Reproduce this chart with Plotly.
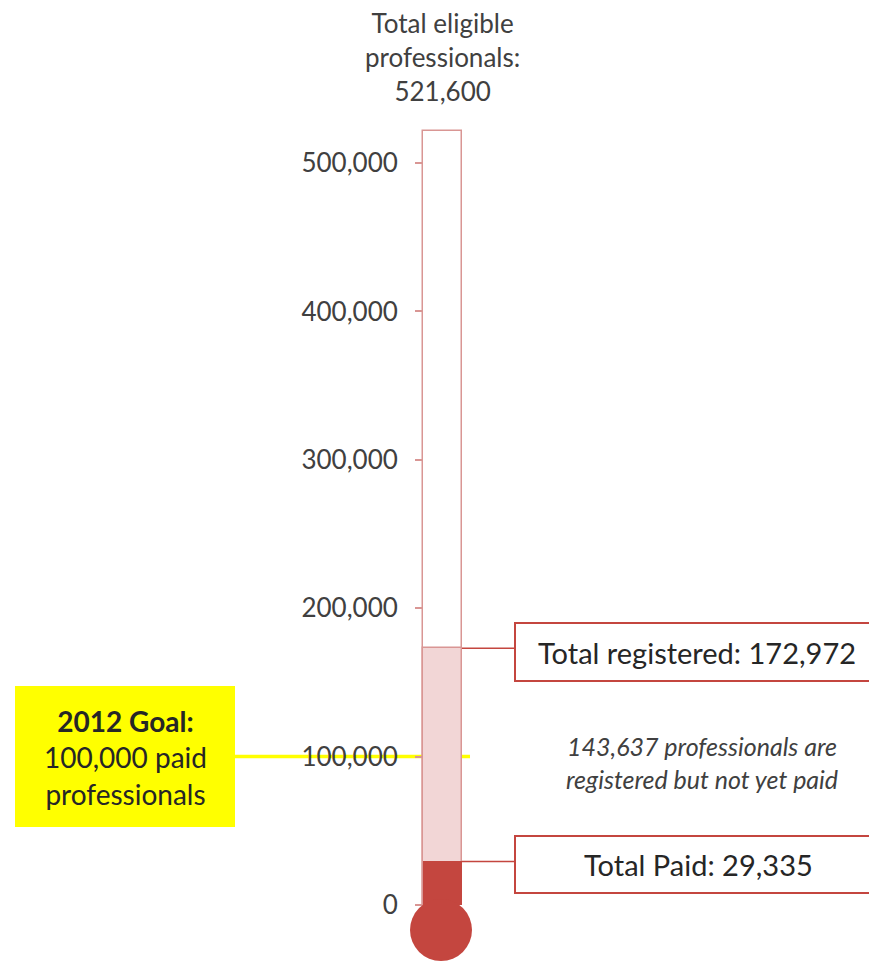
import plotly.graph_objects as go

# ---- data ----
total_eligible = 521600
total_registered = 172972
total_paid = 29335
registered_not_paid = 143637
goal_value = 100000
tick_values = [0, 100000, 200000, 300000, 400000, 500000]
tick_labels = ["0", "100,000", "200,000", "300,000", "400,000", "500,000"]

W, H = 869, 961
FONT = "Lato"
GREY = "#404040"
RED = "#c4463f"
PINK_LINE = "#d99694"
PINK_FILL = "#f2d6d6"

# pixel geometry of the value axis: value 0 at y=905, 148.4 px per 100k
Y0_PX = 905.0
PX_PER_UNIT = 148.4 / 100000.0


def px_to_val(py):
    return (Y0_PX - py) / PX_PER_UNIT


def pyp(py):  # pixel y -> paper y
    return 1 - py / H


TUBE_X = 442.5
TUBE_W = 39

fig = go.Figure()

# tube outline (total eligible)
fig.add_trace(go.Bar(x=[TUBE_X], y=[total_eligible], base=[0], width=[TUBE_W],
                     marker=dict(color="white", line=dict(color=PINK_LINE, width=1.5)),
                     hoverinfo="skip", showlegend=False))
# registered
fig.add_trace(go.Bar(x=[TUBE_X], y=[total_registered], base=[0], width=[TUBE_W],
                     marker=dict(color=PINK_FILL, line=dict(color=PINK_LINE, width=1.5)),
                     hoverinfo="skip", showlegend=False))
# paid
fig.add_trace(go.Bar(x=[TUBE_X], y=[total_paid], base=[0], width=[TUBE_W],
                     marker=dict(color=RED, line=dict(color=RED, width=0)),
                     hoverinfo="skip", showlegend=False))

shapes = []
# bulb
r_px = 31
cx, cy = 441, 930
shapes.append(dict(type="circle", xref="x", yref="y",
                   x0=cx - r_px, x1=cx + r_px,
                   y0=px_to_val(cy + r_px), y1=px_to_val(cy - r_px),
                   fillcolor=RED, line=dict(color=RED, width=0), layer="above"))
# goal line (behind tube)
shapes.append(dict(type="line", xref="x", yref="y", x0=235, x1=470,
                   y0=goal_value, y1=goal_value,
                   line=dict(color="#ffff00", width=3.5), layer="below"))
# connector lines
for v in (total_registered, total_paid):
    shapes.append(dict(type="line", xref="x", yref="y", x0=TUBE_X + TUBE_W / 2, x1=515,
                       y0=v, y1=v, line=dict(color=RED, width=1.5)))
# label boxes
shapes.append(dict(type="rect", xref="x", yref="paper", x0=515, x1=885,
                   y0=pyp(681), y1=pyp(623), fillcolor="white",
                   line=dict(color=RED, width=2)))
shapes.append(dict(type="rect", xref="x", yref="paper", x0=515, x1=885,
                   y0=pyp(893), y1=pyp(836), fillcolor="white",
                   line=dict(color=RED, width=2)))
# goal box
shapes.append(dict(type="rect", xref="x", yref="paper", x0=15, x1=235,
                   y0=pyp(827), y1=pyp(686), fillcolor="#ffff00",
                   line=dict(width=0)))

annotations = [
    dict(x=TUBE_X, y=pyp(57), xref="x", yref="paper", yanchor="middle",
         text=f"Total eligible<br>professionals:<br>{total_eligible:,}",
         showarrow=False, font=dict(family=FONT, size=26, color=GREY), align="center"),
    dict(x=697, y=pyp(652), xref="x", yref="paper", yanchor="middle",
         text=f"Total registered: {total_registered:,}",
         showarrow=False, font=dict(family=FONT, size=29, color="#262626")),
    dict(x=698, y=pyp(864), xref="x", yref="paper", yanchor="middle",
         text=f"Total Paid: {total_paid:,}",
         showarrow=False, font=dict(family=FONT, size=29, color="#262626")),
    dict(x=702, y=pyp(762), xref="x", yref="paper", yanchor="middle",
         text=f"<i>{registered_not_paid:,} professionals are<br>registered but not yet paid</i>",
         showarrow=False, font=dict(family=FONT, size=25, color=GREY), align="center"),
    dict(x=125, y=pyp(757), xref="x", yref="paper", yanchor="middle",
         text=f"<b>2012 Goal:</b><br>{goal_value:,} paid<br>professionals",
         showarrow=False, font=dict(family=FONT, size=28, color="#262626"), align="center"),
]

fig.update_layout(
    width=W, height=H, margin=dict(l=0, r=0, t=0, b=0),
    paper_bgcolor="white", plot_bgcolor="white",
    barmode="overlay", bargap=0,
    showlegend=False,
    shapes=shapes, annotations=annotations,
    xaxis=dict(range=[0, W], visible=False, fixedrange=True),
    yaxis=dict(range=[px_to_val(H), px_to_val(0)], anchor="free",
               position=(TUBE_X - TUBE_W / 2) / W,
               tickvals=tick_values, ticktext=tick_labels,
               ticks="outside", ticklen=8, tickcolor=PINK_LINE, tickwidth=1.5,
               ticklabelstandoff=12,
               tickfont=dict(family=FONT, size=26, color=GREY),
               showgrid=False, zeroline=False, showline=False, fixedrange=True),
)

fig.write_html("out.html")
